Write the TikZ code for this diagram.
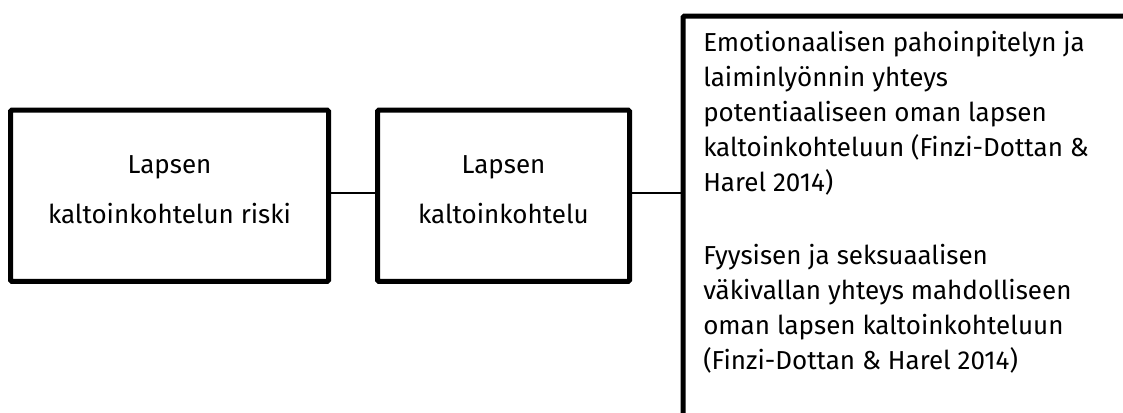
\documentclass[tikz,border=0pt]{standalone}
\usepackage{fontspec}
\setmainfont{Fira Sans}
\usetikzlibrary{positioning}
\tikzset{
    box/.style={draw, line width=3.75pt, rounded corners=1pt, align=center, inner sep=0pt,
        font=\fontsize{19.5}{37.5}\selectfont},
    link/.style={line width=1.1pt},
    listtext/.style={align=left, inner sep=0pt, font=\fontsize{19.5}{26.25}\selectfont},
}

\begin{document}
\begin{tikzpicture}[x=0.75pt,y=-0.75pt] % maltreatment chain
	\clip (0,0) rectangle (1123,412);
	\node[box, text depth=9pt, minimum width=238.5pt, minimum height=128.6pt] (risk) at (169.5,195.75) {Lapsen\\kaltoinkohtelun riski};
	\node[box, text depth=9pt, minimum width=189pt, minimum height=128.6pt] (kalt) at (503.5,195.75) {Lapsen\\kaltoinkohtelu};
	\node[box, anchor=north west, minimum width=450pt, minimum height=350pt] (yht) at (680.5,13.5) {};
	\node[listtext, anchor=base west] (txt) at (703,369) {Emotionaalisen pahoinpitelyn ja\\
		laiminlyönnin yhteys\\
		potentiaaliseen oman lapsen\\
		kaltoinkohteluun (Finzi-Dottan \&\\
		Harel 2014)\\[28.1pt]
		Fyysisen ja seksuaalisen\\
		väkivallan yhteys mahdolliseen\\
		oman lapsen kaltoinkohteluun\\
		(Finzi-Dottan \& Harel 2014)};
	\draw[link] ([yshift=2pt]risk.east) -- ([yshift=2pt]kalt.west);
	\draw[link] ([yshift=2pt]kalt.east) -- ([yshift=2pt]kalt.east -| yht.west);
\end{tikzpicture}
\end{document}
